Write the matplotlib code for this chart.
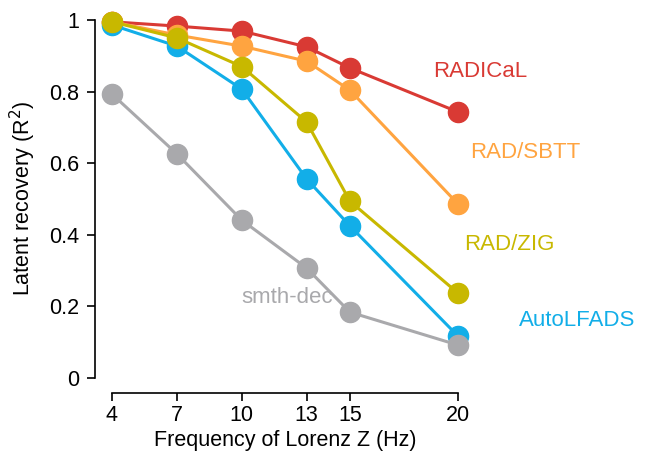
import matplotlib
matplotlib.use("Agg")
import matplotlib.pyplot as plt
from matplotlib import rc
rc("font", **{"family": "sans-serif", "sans-serif": ["Liberation Sans"]})

freqs = [4, 7, 10, 13, 15, 20]
radical = [0.995, 0.983, 0.969, 0.925, 0.866, 0.743]
rad_sbtt = [0.995, 0.958, 0.927, 0.885, 0.804, 0.486]
auto_lfads = [0.986, 0.927, 0.807, 0.556, 0.425, 0.117]
rad_zig = [0.995, 0.950, 0.870, 0.715, 0.494, 0.237]
smth_dec = [0.793, 0.626, 0.441, 0.307, 0.184, 0.092]
yticks = [0, 0.2, 0.4, 0.6, 0.8, 1]
ytick_labels = ["0", "0.2", "0.4", "0.6", "0.8", "1"]

series = [
    ("RADICaL", radical, "#d93a34", (18.85, 0.855)),
    ("RAD/SBTT", rad_sbtt, "#ffa440", (20.55, 0.631)),
    ("AutoLFADS", auto_lfads, "#12aee8", (22.8, 0.162)),
    ("RAD/ZIG", rad_zig, "#c8b800", (20.3, 0.372)),
    ("smth-dec", smth_dec, "#a9a9ac", (10.0, 0.226)),
]

fig = plt.figure(figsize=(6.47, 4.62), dpi=100)
ax = fig.add_axes([112/647, 84/462, 346/647, 358/462])
for name, vals, col, pos in series:
    ax.plot(freqs, vals, "-o", color=col, lw=2.2, ms=14.5, clip_on=False)
    ax.text(pos[0], pos[1], name, color=col, fontsize=16, va="center", ha="left")

ax.set_xlim(4, 20)
ax.set_ylim(0, 1)
ax.set_xticks(freqs)
ax.set_yticks(yticks)
ax.set_yticklabels(ytick_labels)
for s in ["top", "right"]:
    ax.spines[s].set_visible(False)
ax.spines["left"].set_position(("outward", 12))
ax.spines["bottom"].set_position(("outward", 11))
ax.spines["left"].set_bounds(0, 1)
ax.spines["bottom"].set_bounds(4, 20)
ax.tick_params(labelsize=15.5, length=5.5, width=1.2)
ax.tick_params(axis="y", pad=6)
ax.tick_params(axis="x", pad=3)
for s in ["left", "bottom"]:
    ax.spines[s].set_linewidth(1.2)
ax.set_xlabel("Frequency of Lorenz Z (Hz)", fontsize=15.5, labelpad=3)
ax.set_ylabel("Latent recovery (R$^2$)", fontsize=15.5, labelpad=8)
fig.savefig("out.png", dpi=100)
